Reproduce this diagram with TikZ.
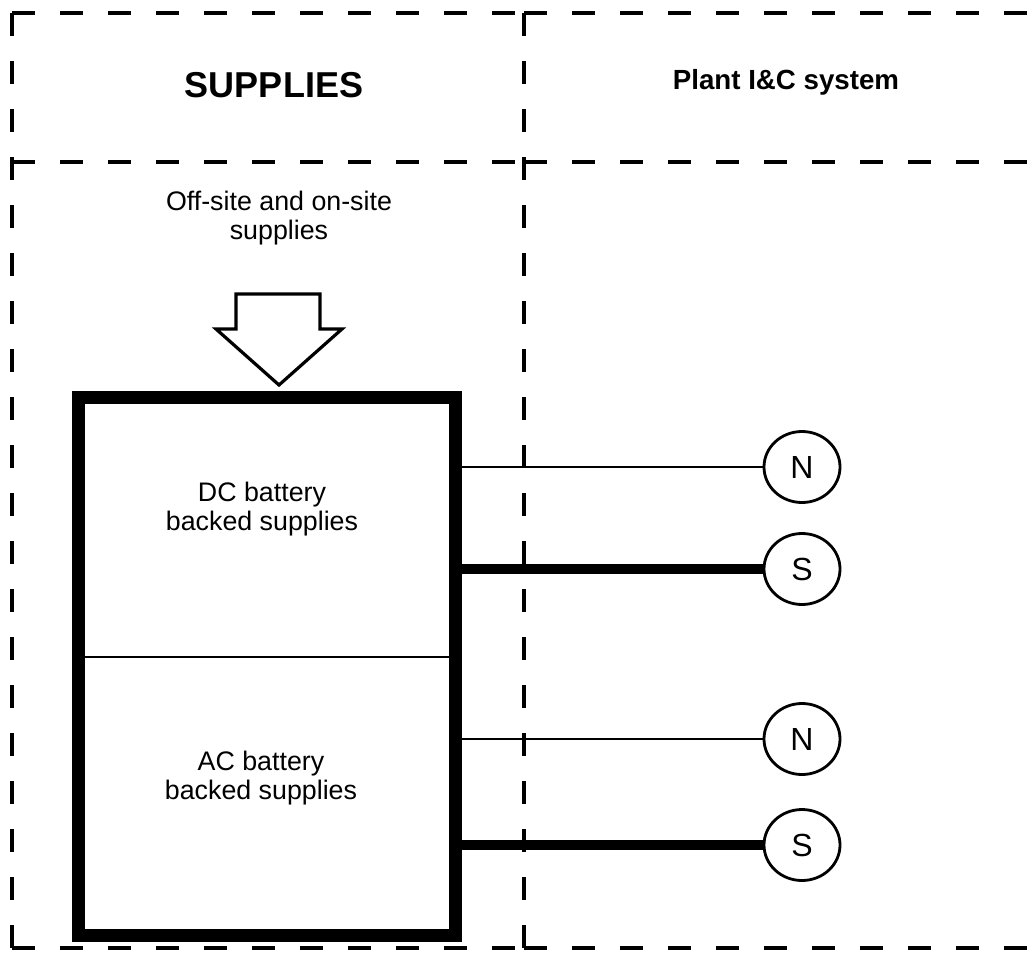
\documentclass[tikz,border=0pt]{standalone}
\usepackage{fontspec}
\setmainfont{Liberation Sans}
\usetikzlibrary{shapes.geometric}
\begin{document}
\begin{tikzpicture}[x=1pt,y=-1pt,
  frame/.style={line width=3.2pt, dash pattern=on 23pt off 25pt},
  txt/.style={align=center, inner sep=0pt, font=\fontsize{26.8}{29}\selectfont},
  term/.style={draw, ellipse, line width=2.8pt, minimum width=76pt, minimum height=71pt, inner sep=0pt, font=\fontsize{32}{32}\selectfont},
  nline/.style={line width=2.8pt},
  sline/.style={line width=10pt}]
\useasboundingbox (0,0) rectangle (1035,955);
% dashed frame
\draw[frame] (12,13) -- (524,13);
\draw[frame] (524,13) -- (1035,13);
\draw[frame] (12,162) -- (524,162);
\draw[frame] (524,162) -- (1035,162);
\draw[frame] (12,948) -- (524,948);
\draw[frame] (524,948) -- (1035,948);
\draw[frame] (12,13) -- (12,948);
\draw[frame] (524,13) -- (524,948);
% titles
\node[font=\fontsize{36}{36}\selectfont\bfseries] (supplies) at (274,85) {SUPPLIES};
\node[font=\fontsize{27.7}{28}\selectfont\bfseries] (plant) at (786,82) {Plant I\&C system};
\node[txt] (offsite) at (279,218) {Off-site and on-site\\supplies};
% arrow
\draw[line width=3.2pt, line join=miter, fill=white] (236,294) -- (320,294) -- (320,329) -- (342,329) -- (279,385) -- (216,329) -- (236,329) -- cycle;
% box
\node[draw, line width=12.5pt, minimum width=377pt, minimum height=538pt, inner sep=0pt, anchor=north west] (box) at (72,391) {};
\draw[nline] (box.west |- 0,657) -- (box.east |- 0,657);
\node[txt] (dc) at (262,509) {DC battery\\backed supplies};
\node[txt] (ac) at (261,778) {AC battery\\backed supplies};
% terminals
\node[term] (n1) at (802,467) {N};
\node[term] (s1) at (802,569) {S};
\node[term] (n2) at (802,739) {N};
\node[term] (s2) at (802,845) {S};
\draw[nline] (box.east |- n1) -- (n1);
\draw[sline] (box.east |- s1) -- (s1);
\draw[nline] (box.east |- n2) -- (n2);
\draw[sline] (box.east |- s2) -- (s2);
\end{tikzpicture}
\end{document}
